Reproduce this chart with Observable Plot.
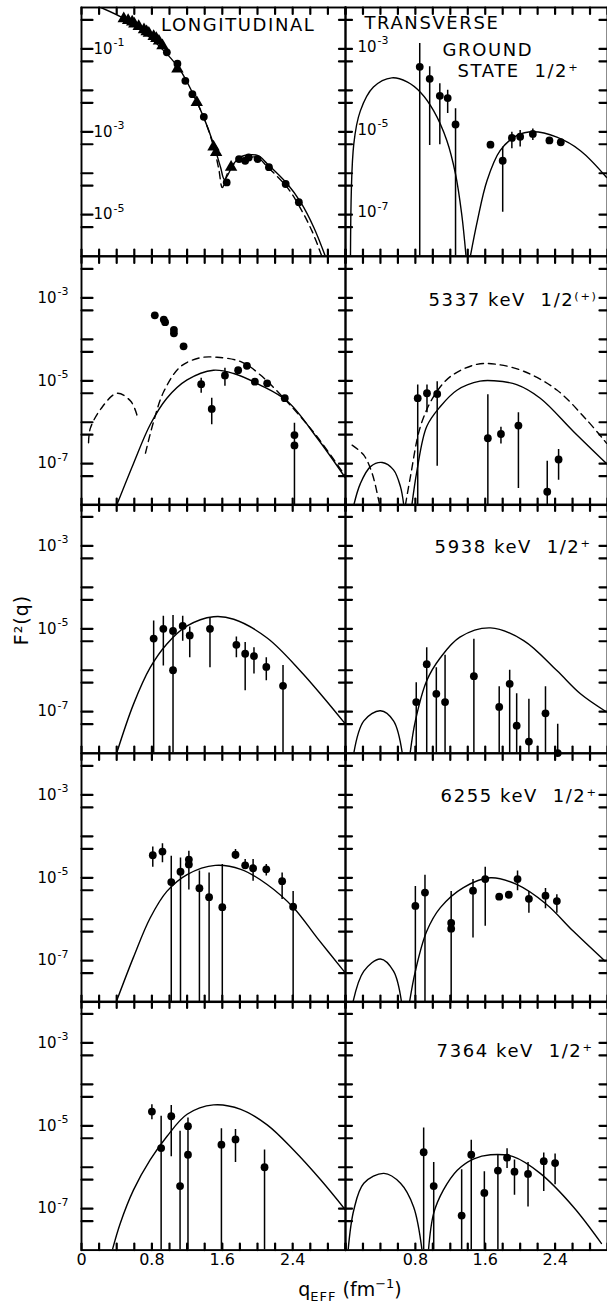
<!DOCTYPE html>
<html><head><meta charset="utf-8">
<script src="https://cdn.jsdelivr.net/npm/d3@7"></script>
<script src="https://cdn.jsdelivr.net/npm/@observablehq/plot@0.6"></script>
<style>
html,body{margin:0;padding:0;background:#fff;}
#chart{position:relative;width:607px;height:1306px;overflow:hidden;font-family:"DejaVu Sans",sans-serif;color:#000;}
.lbl{position:absolute;white-space:nowrap;line-height:1;}
.lbl sub{font-size:13px;vertical-align:-5px;letter-spacing:1px;}
.lbl sup{font-size:13px;vertical-align:8px;}
</style></head><body><div id="chart"></div>
<script>
// ---------- axis values ----------
const xTickValues = [0, 0.2, 0.4, 0.6, 0.8, 1.0, 1.2, 1.4, 1.6, 1.8, 2.0, 2.2, 2.4, 2.6, 2.8, 3.0];
const xLabelsLeft = [0, 0.8, 1.6, 2.4];
const xLabelsRight = [0.8, 1.6, 2.4];
const yTicksTop = [0.5, 0.1, 0.05, 0.01, 0.005, 0.001, 5e-4, 1e-4, 5e-5, 1e-5, 5e-6];
const yTicksLow = [5e-3, 1e-3, 5e-4, 1e-4, 5e-5, 1e-5, 5e-6, 1e-6, 5e-7, 1e-7, 5e-8];
const yLabelsTopLeft = [1e-1, 1e-3, 1e-5];
const yLabelsLow = [1e-3, 1e-5, 1e-7];

// ---------- ground state 1/2+ ----------
const gsLongCurve = [[0.22,1.0],[0.52,0.49],[0.75,0.21],[0.97,7.6e-2],[1.125,3.0e-2],[1.26,8.9e-3],[1.39,2.2e-3],[1.50,5.1e-4],[1.58,1.4e-4],[1.625,7.1e-5],[1.73,1.7e-4],[1.81,2.5e-4],[2.0,2.7e-4],[2.11,1.7e-4],[2.34,5.5e-5],[2.49,2.0e-5],[2.64,4.9e-6],[2.77,1.0e-6]];
const gsLongDash = [[1.26,8.9e-3],[1.39,2.2e-3],[1.50,4.5e-4],[1.56,1.26e-4],[1.60,4.5e-5],[1.66,1.0e-4],[1.75,1.8e-4],[1.90,2.4e-4],[2.0,2.4e-4],[2.11,1.45e-4],[2.34,4.5e-5],[2.49,1.4e-5],[2.62,4.0e-6],[2.73,1.0e-6]];
const gsLongCircles = [[0.97,8.3e-2],[1.09,4.4e-2],[1.18,1.7e-2],[1.26,8.1e-3],[1.39,2.3e-3],[1.65,6.0e-5],[1.79,2.2e-4],[1.86,2.0e-4],[1.90,2.4e-4],[2.00,2.2e-4],[2.13,1.4e-4],[2.32,5.5e-5],[2.47,2.0e-5]];
const gsLongTriangles = [[0.48,0.54],[0.53,0.49],[0.576,0.45],[0.60,0.40],[0.65,0.35],[0.71,0.29],[0.74,0.26],[0.765,0.24],[0.82,0.20],[0.85,0.18],[0.88,0.155],[0.92,0.12],[1.09,3.3e-2],[1.31,5.1e-3],[1.50,4.3e-4],[1.53,3.2e-4],[1.70,1.4e-4]];
const gsTransCurveA = [[0.057,1e-8],[0.095,5.1e-6],[0.17,3.2e-5],[0.32,1.2e-4],[0.53,2.0e-4],[0.705,1.6e-4],[0.86,8.9e-5],[1.01,3.2e-5],[1.16,6.2e-6],[1.26,9.5e-7],[1.33,1.05e-7],[1.38,1e-8]];
const gsTransCurveB = [[1.43,1e-8],[1.51,7.1e-8],[1.62,6.6e-7],[1.77,3.5e-6],[1.96,8.1e-6],[2.15,1.0e-5],[2.42,7.4e-6],[2.69,3.5e-6],[2.99,7.9e-7]];
// [q, F2, low, high]
const gsTransPts = [[0.85,3.7e-4,1e-8,1.35e-3],[0.964,1.9e-4,4.7e-6,3.7e-4],[1.08,7.4e-5,4.9e-6,1.45e-4],[1.17,6.5e-5,2.75e-5,1.0e-4],[1.26,1.5e-5,1e-8,3.6e-5],[1.66,4.9e-6],[1.80,2.0e-6,1.15e-7,4.3e-6],[1.905,7.1e-6,3.9e-6,9.8e-6],[2.00,7.6e-6,4.3e-6,1.07e-5],[2.145,8.9e-6,6.2e-6,1.17e-5],[2.335,6.2e-6],[2.465,5.6e-6]];

// ---------- 5337 keV ----------
const s5337LongCurve = [[0.40,1e-8],[0.59,1e-7],[0.78,8.7e-7],[0.97,3.8e-6],[1.20,1.05e-5],[1.50,1.8e-5],[1.73,1.5e-5],[2.03,7.9e-6],[2.34,3.2e-6],[2.68,4.1e-7],[3.0,4.5e-8]];
const s5337LongDashA = [[0.08,3.2e-7],[0.10,7.1e-7],[0.22,2.1e-6],[0.405,5.0e-6],[0.56,3.2e-6],[0.63,1.5e-6]];
const s5337LongDashB = [[0.727,1.8e-7],[0.82,1.05e-6],[0.935,5.5e-6],[1.125,2.2e-5],[1.35,3.6e-5],[1.54,3.7e-5],[1.81,2.9e-5],[2.03,1.4e-5],[2.41,2.1e-6],[2.68,4.4e-7],[3.0,5.0e-8]];
const s5337LongPts = [[0.833,3.8e-4],[0.935,3.0e-4],[0.95,2.6e-4],[1.05,1.7e-4],[1.05,1.4e-4],[1.16,6.8e-5],[1.36,8.3e-6,5.0e-6,1.15e-5],[1.48,2.1e-6,8.7e-7,3.8e-6],[1.63,1.35e-5,7.4e-6,2.0e-5],[1.78,1.8e-5],[1.88,2.3e-5],[1.97,9.5e-6],[2.11,8.7e-6],[2.31,3.8e-6],[2.42,4.9e-7,1e-8,9.5e-7],[2.42,2.75e-7]];
const s5337TransCurveA = [[0.095,1e-8],[0.17,3.3e-8],[0.286,8.5e-8],[0.42,1.07e-7],[0.55,7.1e-8],[0.63,2.75e-8],[0.667,1e-8]];
const s5337TransCurveB = [[0.76,1e-8],[0.82,7.1e-8],[0.93,7.9e-7],[1.086,2.4e-6],[1.28,6.0e-6],[1.54,9.8e-6],[1.70,1.0e-5],[1.96,8.1e-6],[2.23,3.8e-6],[2.61,6.0e-7],[2.99,1.0e-7]];
const s5337TransDashA = [[0.076,2.8e-7],[0.21,1.6e-7],[0.305,5.8e-8],[0.38,1.3e-8],[0.40,8e-9]];
const s5337TransDashB = [[0.686,1e-8],[0.743,4.8e-8],[0.857,7.8e-7],[1.01,4.2e-6],[1.20,1.26e-5],[1.505,2.5e-5],[1.73,2.5e-5],[2.04,1.7e-5],[2.42,6.0e-6],[2.76,1.15e-6],[2.99,3.1e-7]];
const s5337TransPts = [[0.827,3.8e-6,1e-8,7.9e-6],[0.933,5.0e-6,1.7e-6,7.9e-6],[1.05,4.8e-6,8.7e-8,9.5e-6],[1.63,4.1e-7,1e-8,4.6e-6],[1.78,5.2e-7,3.0e-7,7.6e-7],[1.98,8.3e-7,2.5e-8,1.7e-6],[2.31,2.1e-8,1e-8,1.15e-7],[2.44,1.26e-7,4.0e-8,2.2e-7]];

// ---------- 5938 keV ----------
const s5938LongCurve = [[0.40,1e-8],[0.59,1.5e-7],[0.78,1.15e-6],[0.97,4.3e-6],[1.20,1.17e-5],[1.50,1.95e-5],[1.73,1.7e-5],[2.11,6.0e-6],[2.49,9.5e-7],[2.75,2.2e-7],[3.0,5.0e-8]];
const s5938LongPts = [[0.82,5.8e-6,1e-8,1.55e-5],[0.93,1.0e-5,1.26e-6,2.0e-5],[1.04,8.9e-6,1e-8,2.1e-5],[1.04,1.0e-6],[1.15,1.17e-5,5.0e-6,2.0e-5],[1.23,6.9e-6,2.0e-6,1.1e-5],[1.46,1.0e-5,1.15e-6,1.8e-5],[1.76,4.1e-6,2.0e-6,6.3e-6],[1.86,2.5e-6,3.2e-7,4.7e-6],[1.96,2.2e-6,8.1e-7,3.5e-6],[2.10,1.2e-6,5.6e-7,2.0e-6],[2.29,4.2e-7,1e-8,1.3e-6]];
const s5938TransCurveA = [[0.095,1e-8],[0.21,6.0e-8],[0.40,1.05e-7],[0.55,6.0e-8],[0.65,1e-8]];
const s5938TransCurveB = [[0.74,1e-8],[0.80,6.0e-8],[0.93,5.6e-7],[1.086,2.0e-6],[1.31,6.3e-6],[1.66,1.05e-5],[2.04,5.2e-6],[2.42,9.8e-7],[2.69,2.7e-7],[2.99,9.8e-8]];
const s5938TransPts = [[0.81,1.7e-7,1e-8,5.0e-7],[0.93,1.4e-6,1e-8,3.5e-6],[1.04,2.7e-7,1e-8,1.15e-6],[1.14,1.7e-7,1e-8,2.3e-6],[1.47,7.2e-7,1e-8,5.6e-6],[1.76,1.3e-7,1e-8,4.0e-7],[1.88,4.7e-7,1e-8,1.0e-6],[1.96,4.6e-8,1e-8,2.7e-7],[2.10,1.9e-8,1e-8,2.0e-7],[2.29,9.1e-8,1e-8,4.0e-7],[2.43,1.0e-8,1e-8,5.0e-8]];

// ---------- 6255 keV ----------
const s6255LongCurve = [[0.405,1.15e-8],[0.59,1.2e-7],[0.78,1.07e-6],[0.97,4.7e-6],[1.20,1.2e-5],[1.52,2.0e-5],[1.81,1.6e-5],[2.11,6.9e-6],[2.41,1.9e-6],[2.68,3.5e-7],[3.0,5.0e-8]];
const s6255LongPts = [[0.81,3.5e-5,1.8e-5,5.5e-5],[0.92,4.3e-5,2.3e-5,6.6e-5],[1.02,7.9e-6,1e-8,3.3e-5],[1.125,1.4e-5,1e-8,3.0e-5],[1.22,2.75e-5,5.1e-6,4.4e-5],[1.22,2.1e-5],[1.34,5.6e-6,1e-8,1.45e-5],[1.45,3.4e-6,1e-8,1.3e-5],[1.60,1.95e-6,1e-8,2.1e-5],[1.75,3.6e-5,2.75e-5,4.8e-5],[1.86,2.0e-5,1.6e-5,2.75e-5],[1.95,1.7e-5,8.3e-6,2.75e-5],[2.10,1.6e-5,1.1e-5,2.1e-5],[2.28,8.3e-6,3.0e-6,1.3e-5],[2.405,2.0e-6,1e-8,4.7e-6]];
const s6255TransCurveA = [[0.088,1.05e-8],[0.21,5.6e-8],[0.40,1.1e-7],[0.55,5.6e-8],[0.64,1.05e-8]];
const s6255TransCurveB = [[0.735,1.05e-8],[0.80,5.6e-8],[0.93,5.1e-7],[1.086,1.9e-6],[1.35,5.8e-6],[1.66,1.0e-5],[1.96,6.9e-6],[2.30,2.3e-6],[2.61,5.1e-7],[2.97,9.8e-8]];
const s6255TransPts = [[0.80,2.1e-6,1e-8,6.2e-6],[0.91,4.4e-6,1e-8,1.15e-5],[1.21,8.1e-7,1e-8,4.7e-6],[1.21,5.9e-7],[1.46,4.9e-6,3.5e-7,9.1e-6],[1.60,9.3e-6,6.8e-7,1.8e-5],[1.76,3.5e-6],[1.87,3.9e-6],[1.97,9.3e-6,4.9e-6,1.45e-5],[2.10,3.1e-6,1.4e-6,4.7e-6],[2.29,3.7e-6,1.8e-6,5.5e-6],[2.42,2.75e-6,1.4e-6,3.9e-6]];

// ---------- 7364 keV ----------
const s7364LongCurve = [[0.35,1e-8],[0.44,4.4e-8],[0.59,2.8e-7],[0.78,1.5e-6],[0.97,5.5e-6],[1.20,1.9e-5],[1.50,3.2e-5],[1.81,2.5e-5],[2.11,1.05e-5],[2.41,2.6e-6],[2.72,4.9e-7],[3.0,9.3e-8]];
const s7364LongPts = [[0.80,2.2e-5,1.4e-5,3.2e-5],[0.905,2.9e-6,1e-8,1.7e-5],[1.02,1.7e-5,1.8e-6,3.1e-5],[1.12,3.5e-7,1e-8,7.4e-6],[1.21,9.8e-6,1e-8,1.55e-5],[1.21,2.0e-6],[1.59,3.5e-6,1e-8,8.5e-6],[1.75,4.7e-6,1.3e-6,8.1e-6],[2.08,1.0e-6,1e-8,2.6e-6]];
const s7364TransCurveA = [[0.03,1e-8],[0.095,9.3e-8],[0.21,4.1e-7],[0.44,7.1e-7],[0.63,4.1e-7],[0.78,1.1e-7],[0.876,1e-8]];
const s7364TransCurveB = [[0.95,1e-8],[1.01,7.8e-8],[1.12,2.8e-7],[1.28,8.5e-7],[1.47,1.6e-6],[1.66,2.0e-6],[1.92,1.8e-6],[2.23,7.1e-7],[2.61,1.1e-7],[2.93,1.45e-8]];
const s7364TransPts = [[0.895,2.3e-6,1e-8,8.9e-6],[1.01,3.5e-7,1e-8,1.3e-6],[1.33,6.8e-8,1e-8,8.7e-7],[1.44,2.0e-6,1e-8,4.5e-6],[1.59,2.4e-7,1e-8,7.8e-7],[1.745,8.3e-7,1e-8,1.95e-6],[1.85,1.7e-6,9.3e-7,2.8e-6],[1.935,7.8e-7,2.1e-7,1.5e-6],[2.09,6.9e-7,1.1e-7,1.3e-6],[2.27,1.4e-6,2.6e-7,2.2e-6],[2.40,1.26e-6,3.8e-7,2.1e-6]];

// ---------- labels ----------
const stateLabels = ["5337 keV  1/2⁽⁺⁾", "5938 keV  1/2⁺", "6255 keV  1/2⁺", "7364 keV  1/2⁺"];

// ---------- layout ----------
const colX = [81, 345], colW = [264, 262];
const rowY = [7, 255.6, 504.2, 752.8, 1001.4], H = 248.6;
const chart = document.getElementById("chart");
const X = d => d[0], Y = d => d[1];
const expo = d => String(Math.round(Math.log10(d)));
const xDomain = [0, 3];

function panel(o) {
  const W = colW[o.col];
  const [lo, hi] = o.domain;
  // tick segments (two end points each), lengths in pixels converted through the scales
  const ky = Math.pow(hi / lo, 6.5 / H);
  const span = xDomain[1] - xDomain[0];
  const kxL = span * (o.col === 0 ? 11 : 6.5) / W;
  const kxR = span * (o.col === 0 ? 6.5 : 8) / W;
  const tickSegs = [];
  xTickValues.forEach((v, i) => {
    tickSegs.push({x: v, y: lo, k: "b" + i}, {x: v, y: lo * ky, k: "b" + i});
    tickSegs.push({x: v, y: hi / ky, k: "t" + i}, {x: v, y: hi, k: "t" + i});
  });
  o.yTicks.forEach((v, i) => {
    tickSegs.push({x: xDomain[0], y: v, k: "l" + i}, {x: xDomain[0] + kxL, y: v, k: "l" + i});
    tickSegs.push({x: xDomain[1] - kxR, y: v, k: "r" + i}, {x: xDomain[1], y: v, k: "r" + i});
  });
  const marks = [Plot.frame({stroke: "black", fill: "none", strokeWidth: 1.9})];
  for (const c of o.curves || []) marks.push(Plot.line(c, {x: X, y: Y, curve: "catmull-rom", strokeWidth: 1.4, clip: true}));
  for (const c of o.dashed || []) marks.push(Plot.line(c, {x: X, y: Y, curve: "catmull-rom", strokeWidth: 1.4, strokeDasharray: "7,5", clip: true}));
  const pts = o.points || [];
  marks.push(Plot.ruleX(pts.filter(d => d.length > 2), {x: X, y1: d => d[2], y2: d => d[3], strokeWidth: 1.5, clip: true}));
  marks.push(Plot.dot(pts, {x: X, y: Y, r: 3.9, fill: "black", stroke: null}));
  if (o.triangles) marks.push(Plot.dot(o.triangles, {x: X, y: Y, r: 4.6, symbol: "triangle", fill: "black", stroke: null}));
  marks.push(Plot.line(tickSegs, {x: "x", y: "y", z: "k", stroke: "black", strokeWidth: 2.2}));
  if (o.yLabels) {
    const base = o.yInside ? 12 : -44;
    const dy = o.yDy || 0;
    marks.push(Plot.text(o.yLabels, {y: d => d, text: () => "10", frameAnchor: "left", textAnchor: "start", dx: base, dy, fontSize: 15}));
    marks.push(Plot.text(o.yLabels, {y: d => d, text: d => "-" + expo(d).replace("-", ""), frameAnchor: "left", textAnchor: "start", dx: base + 20, dy: dy - 6, fontSize: 11}));
  }
  if (o.xLabels) {
    marks.push(Plot.text(o.xLabels, {x: d => d, text: d => d === 0 ? "0" : d.toFixed(1), frameAnchor: "bottom", lineAnchor: "top", dy: 4, fontSize: 16}));
  }
  for (const t of o.texts || []) {
    marks.push(Plot.text([t.text], {text: d => d, frameAnchor: t.anchor, textAnchor: t.textAnchor, dx: t.dx, dy: t.dy, fontSize: t.size || 18, lineAnchor: "middle", ariaDescription: "title"}));
  }
  const svg = Plot.plot({
    width: W, height: H, margin: 0,
    x: {domain: xDomain, axis: null},
    y: {type: "log", domain: o.domain, axis: null},
    style: {background: "transparent", overflow: "visible", fontFamily: "'DejaVu Sans', sans-serif", color: "black"},
    marks
  });
  svg.style.position = "absolute";
  svg.style.left = colX[o.col] + "px";
  svg.style.top = rowY[o.row] + "px";
  d3.select(svg).selectAll('g[aria-description="title"] text').style("letter-spacing", "1.6px");
  chart.appendChild(svg);
}

const low = [1e-8, 1e-2];
panel({col: 0, row: 0, domain: [1e-6, 1], yTicks: yTicksTop, yLabels: yLabelsTopLeft, yInside: true,
  curves: [gsLongCurve], dashed: [gsLongDash], points: gsLongCircles, triangles: gsLongTriangles,
  texts: [{text: "LONGITUDINAL", anchor: "top-right", textAnchor: "end", dx: -30, dy: 18}]});
panel({col: 1, row: 0, domain: low, yTicks: yTicksLow, yLabels: yLabelsLow, yInside: true, yDy: -2,
  curves: [gsTransCurveA, gsTransCurveB], points: gsTransPts,
  texts: [{text: "TRANSVERSE", anchor: "top-left", textAnchor: "start", dx: 19, dy: 16},
          {text: "GROUND", anchor: "top-left", textAnchor: "start", dx: 97, dy: 43},
          {text: "STATE  1/2⁺", anchor: "top-left", textAnchor: "start", dx: 112, dy: 64}]});
panel({col: 0, row: 1, domain: low, yTicks: yTicksLow, yLabels: yLabelsLow,
  curves: [s5337LongCurve], dashed: [s5337LongDashA, s5337LongDashB], points: s5337LongPts});
panel({col: 1, row: 1, domain: low, yTicks: yTicksLow,
  curves: [s5337TransCurveA, s5337TransCurveB], dashed: [s5337TransDashA, s5337TransDashB], points: s5337TransPts,
  texts: [{text: stateLabels[0], anchor: "top-right", textAnchor: "end", dx: -10, dy: 44}]});
panel({col: 0, row: 2, domain: low, yTicks: yTicksLow, yLabels: yLabelsLow,
  curves: [s5938LongCurve], points: s5938LongPts});
panel({col: 1, row: 2, domain: low, yTicks: yTicksLow,
  curves: [s5938TransCurveA, s5938TransCurveB], points: s5938TransPts,
  texts: [{text: stateLabels[1], anchor: "top-right", textAnchor: "end", dx: -16, dy: 43}]});
panel({col: 0, row: 3, domain: low, yTicks: yTicksLow, yLabels: yLabelsLow,
  curves: [s6255LongCurve], points: s6255LongPts});
panel({col: 1, row: 3, domain: low, yTicks: yTicksLow,
  curves: [s6255TransCurveA, s6255TransCurveB], points: s6255TransPts,
  texts: [{text: stateLabels[2], anchor: "top-right", textAnchor: "end", dx: -10, dy: 43}]});
panel({col: 0, row: 4, domain: low, yTicks: yTicksLow, yLabels: yLabelsLow, xLabels: xLabelsLeft,
  curves: [s7364LongCurve], points: s7364LongPts});
panel({col: 1, row: 4, domain: low, yTicks: yTicksLow, xLabels: xLabelsRight,
  curves: [s7364TransCurveA, s7364TransCurveB], points: s7364TransPts,
  texts: [{text: stateLabels[3], anchor: "top-right", textAnchor: "end", dx: -14, dy: 50}]});

// axis titles
const yTitle = document.createElement("div");
yTitle.className = "lbl";
yTitle.style.cssText = "left:21px;top:620px;font-size:19px;transform:translate(-50%,-50%) rotate(-90deg);letter-spacing:1px;";
yTitle.textContent = "F²(q)";
chart.appendChild(yTitle);
const xTitle = document.createElement("div");
xTitle.className = "lbl";
xTitle.style.cssText = "left:350px;top:1277px;font-size:19px;transform:translateX(-50%);";
xTitle.innerHTML = "q<sub>EFF</sub> (fm<sup>−1</sup>)";
chart.appendChild(xTitle);
</script></body></html>
